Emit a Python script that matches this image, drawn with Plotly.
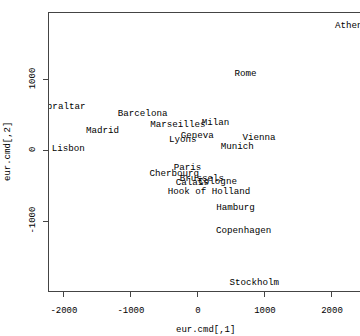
import plotly.graph_objects as go

cities = ["Athens", "Barcelona", "Brussels", "Calais", "Cherbourg", "Cologne",
          "Copenhagen", "Geneva", "Gibraltar", "Hamburg", "Hook of Holland",
          "Lisbon", "Lyons", "Madrid", "Marseilles", "Milan", "Munich", "Paris",
          "Rome", "Stockholm", "Vienna"]
dim1 = [2290.27, -825.38, 59.18, -82.85, -352.50, 293.69, 681.93, -9.42,
        -2048.45, 561.11, 164.92, -1935.04, -226.42, -1423.35, -299.50,
        260.88, 587.68, -156.84, 709.41, 839.45, 911.23]
dim2 = [1798.80, 546.81, -367.08, -429.91, -290.91, -405.31, -1108.64, 240.41,
        642.46, -773.37, -549.37, 49.13, 187.09, 305.88, 388.81, 416.67,
        81.18, -211.14, 1109.36, -1836.79, 205.93]
xticks = [-2000, -1000, 0, 1000, 2000]
yticks = [-1000, 0, 1000]
xlabel = "eur.cmd[,1]"
ylabel = "eur.cmd[,2]"

FONT = "Liberation Mono"
YR = [-1982, 1944]
shift = 28  # ~2 px downward nudge for the text labels
fig = go.Figure()
# empty trace keeps the main x/y axes drawn
fig.add_trace(go.Scatter(x=[None], y=[None], mode="markers", hoverinfo="skip",
                         showlegend=False))
fig.add_trace(go.Scatter(
    x=dim1, y=dim2, text=cities, mode="text", textposition="middle center",
    textfont=dict(family=FONT, size=9.2, color="black"), cliponaxis=True,
    hoverinfo="skip", showlegend=False, yaxis="y2"))

axcol = "#444444"
fig.update_layout(
    width=360, height=336,
    margin=dict(l=49, r=0, t=13, b=45),
    paper_bgcolor="white", plot_bgcolor="white",
    font=dict(family=FONT, size=9, color="black"),
    xaxis=dict(range=[-2222, 2418], tickvals=xticks, ticktext=[str(v) for v in xticks],
               showgrid=False, zeroline=False, showline=True, linecolor=axcol,
               linewidth=1, mirror=True, ticks="outside", ticklen=5, tickcolor=axcol,
               ticklabelstandoff=5,
               tickfont=dict(family=FONT, size=9, color="black")),
    yaxis=dict(range=YR, tickvals=yticks, ticktext=[str(v) for v in yticks],
               showgrid=False, zeroline=False, showline=True, linecolor=axcol,
               linewidth=1, mirror=False, ticks="outside", ticklen=5, tickcolor=axcol,
               tickangle=-90, ticklabelstandoff=4,
               tickfont=dict(family=FONT, size=9, color="black")),
    yaxis2=dict(range=[YR[0] + shift, YR[1] + shift], overlaying="y", visible=False,
                showgrid=False, zeroline=False),
    annotations=[
        dict(text=xlabel, xref="paper", yref="paper", x=(205 - 49) / 311,
             y=(291 - 330) / 278, showarrow=False, xanchor="center", yanchor="middle",
             font=dict(family=FONT, size=9, color="black")),
        dict(text=ylabel, xref="paper", yref="paper", x=(8 - 49) / 311,
             y=0.5, showarrow=False, xanchor="center", yanchor="middle", textangle=-90,
             font=dict(family=FONT, size=9, color="black")),
    ],
)
fig.write_html("out.html")
